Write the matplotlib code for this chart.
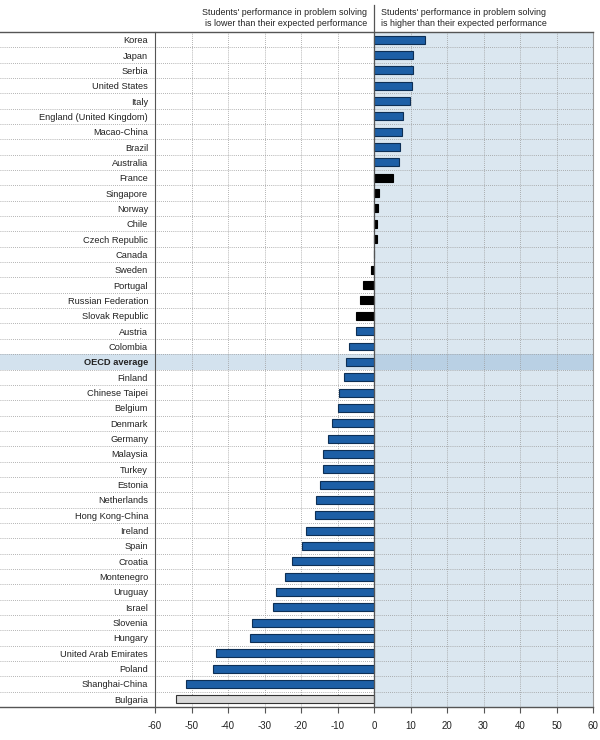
import matplotlib.pyplot as plt

plt.rcParams['font.family'] = ['Liberation Sans Narrow', 'Liberation Sans', 'DejaVu Sans']

# Diferencia entre rendimiento observado y esperado en resolución de problemas
paises = ["Korea", "Japan", "Serbia", "United States", "Italy",
          "England (United Kingdom)", "Macao-China", "Brazil", "Australia",
          "France", "Singapore", "Norway", "Chile", "Czech Republic", "Canada",
          "Sweden", "Portugal", "Russian Federation", "Slovak Republic",
          "Austria", "Colombia", "OECD average", "Finland", "Chinese Taipei",
          "Belgium", "Denmark", "Germany", "Malaysia", "Turkey", "Estonia",
          "Netherlands", "Hong Kong-China", "Ireland", "Spain", "Croatia",
          "Montenegro", "Uruguay", "Israel", "Slovenia", "Hungary",
          "United Arab Emirates", "Poland", "Shanghai-China", "Bulgaria"]
valores = [14.0, 10.6, 10.6, 10.3, 9.9, 8.0, 7.7, 7.1, 6.9, 5.1, 1.4, 1.2,
           0.9, 0.7, 0.1, -0.8, -3.0, -3.8, -4.9, -4.9, -6.9, -7.6, -8.1,
           -9.6, -10.0, -11.5, -12.5, -13.9, -14.1, -14.9, -15.9, -16.3,
           -18.5, -19.6, -22.5, -24.4, -26.8, -27.8, -33.5, -34.0, -43.3,
           -44.1, -51.5, -54.3]
# "s" = significativo, "n" = no significativo, "g" = gris (Bulgaria)
tipo = ["s"] * 9 + ["n"] * 10 + ["s"] * 24 + ["g"]
ticks_x = [-60, -50, -40, -30, -20, -10, 0, 10, 20, 30, 40, 50, 60]

colores = {"s": "#1d5fa6", "n": "#000000", "g": "#d9d9d9"}
bordes = {"s": "#0d2f55", "n": "#000000", "g": "#333333"}

fig = plt.figure(figsize=(6, 7.4), dpi=100)
ax = fig.add_axes([155 / 600, 1 - 707 / 740, 438 / 600, 675 / 740])

n = len(paises)
y = list(range(n))
ax.set_xlim(-60, 60)
ax.set_ylim(n - 0.5, -0.5)

# zona derecha sombreada
ax.axvspan(0, 60, color="#dbe7f0", zorder=0)

# fila del promedio OCDE resaltada
i_oecd = paises.index("OECD average")
tr = ax.get_yaxis_transform()
ax.fill_between([-155 / 438, 0.5], i_oecd - 0.5, i_oecd + 0.5, transform=tr,
                color="#d3e2ee", zorder=0.5, clip_on=False, lw=0)
ax.fill_between([0.5, 1], i_oecd - 0.5, i_oecd + 0.5, transform=tr,
                color="#b9d0e4", zorder=0.5, clip_on=False, lw=0)

# líneas de separación entre filas
punteado = (0, (1, 1.5))
for k in range(1, n):
    ax.plot([-155 / 438, 1], [k - 0.5, k - 0.5], transform=tr, color="#9a9a9a",
            lw=0.6, ls=punteado, clip_on=False, zorder=1)
# rejilla vertical
for t in ticks_x[1:-1]:
    if t != 0:
        ax.axvline(t, color="#9a9a9a", lw=0.6, ls=punteado, zorder=1)

for yi, v, t in zip(y, valores, tipo):
    ax.barh(yi, v, height=0.52, color=colores[t], edgecolor=bordes[t],
            lw=0.8, zorder=3)

ax.axvline(0, color="#555555", lw=0.9, zorder=4)
ax.plot([0.5, 0.5], [1, 1 + 27 / 675], transform=ax.transAxes,
        color="#555555", lw=0.9, clip_on=False)

# marco
for s in ["top", "bottom"]:
    ax.spines[s].set_visible(False)
ax.spines["left"].set_color("#555555")
ax.spines["right"].set_color("#999999")
ax.spines["right"].set_linewidth(0.8)
ax.plot([-155 / 438, 1], [0, 0], transform=ax.transAxes, color="#555555",
        lw=1.0, clip_on=False, zorder=5)
ax.plot([-155 / 438, 1], [1, 1], transform=ax.transAxes, color="#555555",
        lw=1.0, clip_on=False, zorder=5)

ax.set_yticks(y)
ax.set_yticklabels(paises, fontsize=6.7, color="#222222")
for lbl in ax.get_yticklabels():
    if lbl.get_text() == "OECD average":
        lbl.set_fontweight("bold")
ax.tick_params(axis="y", length=0, pad=5)
ax.set_xticks(ticks_x)
ax.set_xticklabels([str(t) for t in ticks_x], fontsize=7, color="#222222")
ax.tick_params(axis="x", length=4, color="#555555", direction="out", pad=6)

ax.text(0.485, 1.006, "Students' performance in problem solving\nis lower than their expected performance",
        transform=ax.transAxes, ha="right", va="bottom", fontsize=6.4,
        color="#222222", linespacing=1.3)
ax.text(0.515, 1.006, "Students' performance in problem solving\nis higher than their expected performance",
        transform=ax.transAxes, ha="left", va="bottom", fontsize=6.4,
        color="#222222", linespacing=1.3)

fig.savefig("out.png", dpi=100)
